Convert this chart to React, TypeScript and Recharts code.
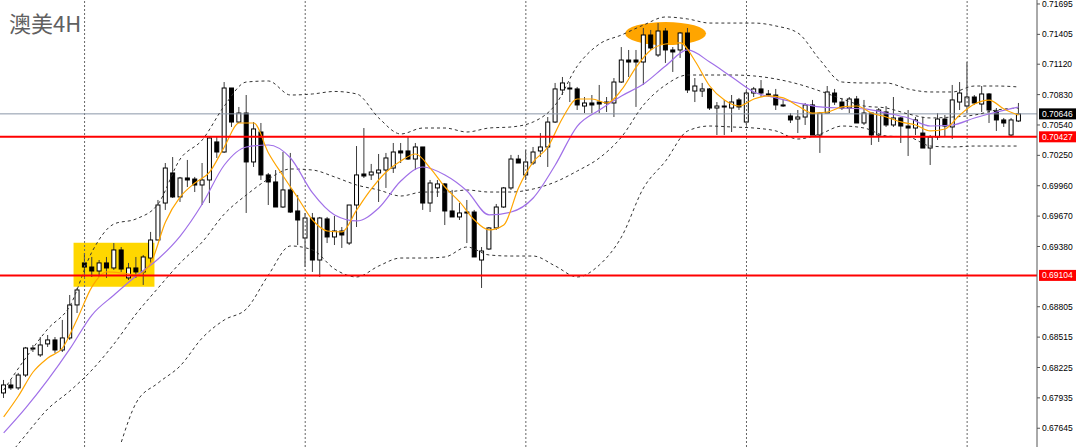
import React from 'react';
import { ComposedChart, Bar, Line, XAxis, YAxis, ReferenceLine, ReferenceArea } from 'recharts';

const openPrices = [
  0.67982, 0.68058, 0.68030, 0.68153, 0.68411, 0.68345, 0.68450, 0.68488, 0.68392, 0.68507,
  0.68822, 0.69223, 0.69184, 0.69146, 0.69223, 0.69175, 0.69347, 0.69080, 0.69175, 0.69137,
  0.69270, 0.69442, 0.69795, 0.70082, 0.69853, 0.70034, 0.70024, 0.69967, 0.70015, 0.70378,
  0.70282, 0.70893, 0.70568, 0.70654, 0.70187, 0.70473, 0.70063, 0.69996, 0.69757, 0.69920,
  0.69719, 0.69461, 0.69652, 0.69251, 0.69643, 0.69471, 0.69528, 0.69413, 0.69776, 0.70072,
  0.70063, 0.70082, 0.70110, 0.70129, 0.70292, 0.70292, 0.70215, 0.70330, 0.69795, 0.69939,
  0.69977, 0.69719, 0.69662, 0.69700, 0.69709, 0.69251, 0.69356, 0.69557, 0.69757, 0.69939,
  0.70215, 0.70063, 0.70177, 0.70292, 0.70330, 0.70568, 0.70874, 0.70893, 0.70884, 0.70721,
  0.70750, 0.70759, 0.70750, 0.70750, 0.70950, 0.71160, 0.71160, 0.71141, 0.71399, 0.71208,
  0.71437, 0.71256, 0.71256, 0.71418, 0.70864, 0.70864, 0.70884, 0.70702, 0.70721, 0.70702,
  0.70779, 0.70568, 0.70845, 0.70884, 0.70836, 0.70826, 0.70731, 0.70626, 0.70597, 0.70616,
  0.70731, 0.70444, 0.70654, 0.70845, 0.70759, 0.70702, 0.70788, 0.70559, 0.70654, 0.70444,
  0.70664, 0.70540, 0.70607, 0.70530, 0.70511, 0.70463, 0.70320, 0.70425, 0.70597, 0.70521,
  0.70759, 0.70721, 0.70807, 0.70740, 0.70836, 0.70674, 0.70588, 0.70444, 0.70578,
];
const highPrices = [
  0.68106, 0.68106, 0.68173, 0.68421, 0.68440, 0.68516, 0.68535, 0.68516, 0.68679, 0.68917,
  0.68984, 0.69318, 0.69280, 0.69251, 0.69280, 0.69413, 0.69375, 0.69223, 0.69280, 0.69299,
  0.69519, 0.69824, 0.70177, 0.70234, 0.70044, 0.70206, 0.70044, 0.70177, 0.70425, 0.70425,
  0.70950, 0.70893, 0.70712, 0.70826, 0.70568, 0.70559, 0.70082, 0.70110, 0.70282, 0.70273,
  0.69872, 0.69700, 0.69700, 0.69662, 0.69662, 0.69671, 0.69566, 0.69776, 0.70339, 0.70511,
  0.70168, 0.70263, 0.70273, 0.70368, 0.70368, 0.70425, 0.70368, 0.70330, 0.70015, 0.70015,
  0.69986, 0.69920, 0.69795, 0.69824, 0.69729, 0.69375, 0.69566, 0.69786, 0.69948, 0.70254,
  0.70254, 0.70301, 0.70330, 0.70463, 0.70616, 0.70941, 0.70998, 0.70950, 0.70903, 0.70807,
  0.70826, 0.70922, 0.70807, 0.70988, 0.71284, 0.71256, 0.71256, 0.71466, 0.71447, 0.71513,
  0.71466, 0.71284, 0.71428, 0.71466, 0.70988, 0.70941, 0.70893, 0.70759, 0.70779, 0.70826,
  0.70798, 0.70874, 0.70903, 0.70969, 0.70874, 0.70884, 0.70779, 0.70654, 0.70683, 0.70750,
  0.70779, 0.70664, 0.70912, 0.70884, 0.70798, 0.70807, 0.70817, 0.70779, 0.70654, 0.70702,
  0.70721, 0.70807, 0.70616, 0.70683, 0.70616, 0.70616, 0.70444, 0.70654, 0.70635, 0.70922,
  0.70950, 0.71141, 0.70826, 0.70912, 0.70845, 0.70702, 0.70607, 0.70607, 0.70750,
];
const lowPrices = [
  0.67934, 0.68011, 0.68011, 0.68134, 0.68373, 0.68326, 0.68421, 0.68364, 0.68373, 0.68488,
  0.68745, 0.69089, 0.69089, 0.69089, 0.69080, 0.69156, 0.69137, 0.69060, 0.69080, 0.69013,
  0.69223, 0.69442, 0.69729, 0.69843, 0.69805, 0.69948, 0.69900, 0.69776, 0.69795, 0.70225,
  0.70273, 0.70521, 0.70559, 0.69700, 0.70139, 0.70015, 0.69776, 0.69757, 0.69748, 0.69700,
  0.69394, 0.69184, 0.69137, 0.69089, 0.69413, 0.69394, 0.69366, 0.69394, 0.69566, 0.70034,
  0.70015, 0.69805, 0.69939, 0.70082, 0.70177, 0.70206, 0.70110, 0.69729, 0.69709, 0.69853,
  0.69585, 0.69662, 0.69633, 0.69413, 0.69280, 0.68984, 0.69347, 0.69538, 0.69748, 0.69920,
  0.70177, 0.70015, 0.70158, 0.70234, 0.70139, 0.70559, 0.70826, 0.70759, 0.70683, 0.70654,
  0.70654, 0.70654, 0.70664, 0.70616, 0.70941, 0.70998, 0.70712, 0.70922, 0.71256, 0.71189,
  0.71132, 0.71046, 0.71180, 0.70845, 0.70759, 0.70807, 0.70683, 0.70444, 0.70444, 0.70473,
  0.70683, 0.70540, 0.70807, 0.70807, 0.70807, 0.70683, 0.70712, 0.70559, 0.70463, 0.70540,
  0.70444, 0.70273, 0.70654, 0.70731, 0.70683, 0.70654, 0.70559, 0.70540, 0.70349, 0.70378,
  0.70521, 0.70521, 0.70368, 0.70244, 0.70444, 0.70320, 0.70158, 0.70397, 0.70425, 0.70406,
  0.70683, 0.70654, 0.70731, 0.70664, 0.70559, 0.70483, 0.70521, 0.70425, 0.70568,
];
const closePrices = [
  0.68058, 0.68030, 0.68153, 0.68411, 0.68402, 0.68440, 0.68488, 0.68392, 0.68507, 0.68822,
  0.68965, 0.69184, 0.69146, 0.69223, 0.69175, 0.69347, 0.69165, 0.69175, 0.69137, 0.69280,
  0.69442, 0.69776, 0.70129, 0.69853, 0.70034, 0.70015, 0.69967, 0.70015, 0.70416, 0.70282,
  0.70893, 0.70568, 0.70654, 0.70187, 0.70502, 0.70063, 0.69996, 0.69757, 0.69920, 0.69709,
  0.69633, 0.69652, 0.69251, 0.69652, 0.69471, 0.69528, 0.69490, 0.69776, 0.70063, 0.70053,
  0.70091, 0.70110, 0.70225, 0.70282, 0.70273, 0.70215, 0.70330, 0.69795, 0.69986, 0.69977,
  0.69719, 0.69662, 0.69700, 0.69709, 0.69280, 0.69337, 0.69557, 0.69757, 0.69939, 0.70215,
  0.70177, 0.70187, 0.70282, 0.70330, 0.70568, 0.70884, 0.70941, 0.70884, 0.70731, 0.70750,
  0.70731, 0.70740, 0.70759, 0.70950, 0.71160, 0.71141, 0.71141, 0.71399, 0.71275, 0.71437,
  0.71256, 0.71237, 0.71418, 0.70874, 0.70912, 0.70884, 0.70702, 0.70721, 0.70712, 0.70759,
  0.70712, 0.70845, 0.70884, 0.70845, 0.70826, 0.70731, 0.70726, 0.70588, 0.70616, 0.70731,
  0.70444, 0.70654, 0.70855, 0.70759, 0.70702, 0.70788, 0.70559, 0.70654, 0.70444, 0.70683,
  0.70540, 0.70607, 0.70530, 0.70511, 0.70588, 0.70320, 0.70425, 0.70597, 0.70530, 0.70779,
  0.70845, 0.70807, 0.70750, 0.70836, 0.70683, 0.70588, 0.70559, 0.70588, 0.70646,
];

// Bollinger bands and purple MA read every third bar
const bandIdx = [
  0, 3, 6, 9, 12, 15, 18, 21, 24, 27, 30, 33, 36, 39, 42, 45, 48, 51, 54, 57, 60, 63, 66, 69,
  72, 75, 78, 81, 84, 87, 90, 93, 96, 99, 102, 105, 108, 111, 114, 117, 120, 123, 126, 129,
  132, 135, 138,
];
const upperBand = [
  0.68010, 0.68316, 0.68593, 0.68812, 0.69328, 0.69595, 0.69643, 0.69786, 0.70215, 0.70397,
  0.70721, 0.70950, 0.70960, 0.70826, 0.70836, 0.70860, 0.70836, 0.70607, 0.70454, 0.70511,
  0.70511, 0.70473, 0.70511, 0.70521, 0.70569, 0.70731, 0.71103, 0.71313, 0.71399, 0.71494,
  0.71571, 0.71552, 0.71513, 0.71513, 0.71513, 0.71485, 0.71418, 0.71160, 0.70950, 0.70941,
  0.70941, 0.70883, 0.70855, 0.70855, 0.70912, 0.70912, 0.70903,
];
const middleBand = [
  0.67323, 0.67581, 0.67829, 0.68001, 0.68201, 0.68450, 0.68736, 0.68984, 0.69223, 0.69423,
  0.69690, 0.69872, 0.70024, 0.70120, 0.70110, 0.70044, 0.69967, 0.69919, 0.69862, 0.69900,
  0.69900, 0.69919, 0.69900, 0.69900, 0.69929, 0.69996, 0.70101, 0.70225, 0.70425, 0.70731,
  0.70922, 0.71017, 0.71017, 0.71017, 0.71008, 0.70979, 0.70931, 0.70864, 0.70788, 0.70721,
  0.70702, 0.70645, 0.70607, 0.70616, 0.70635, 0.70683, 0.70702,
];
const purpleMA = [
  0.67600, 0.67839, 0.68106, 0.68402, 0.68726, 0.68917, 0.69099, 0.69261, 0.69480, 0.69786,
  0.70158, 0.70330, 0.70349, 0.70225, 0.69891, 0.69681, 0.69624, 0.69748, 0.70005, 0.70139,
  0.70063, 0.69910, 0.69681, 0.69709, 0.69843, 0.70158, 0.70530, 0.70683, 0.70817, 0.70931,
  0.71103, 0.71256, 0.71141, 0.70998, 0.70855, 0.70798, 0.70750, 0.70712, 0.70702, 0.70693,
  0.70654, 0.70607, 0.70530, 0.70540, 0.70607, 0.70664, 0.70712,
];
const lowerIdx = [
  16, 18, 21, 24, 27, 30, 33, 36, 39, 42, 45, 48, 51, 54, 57, 60, 63, 66, 69, 72, 75, 78, 81,
  84, 87, 90, 93, 96, 99, 102, 105, 108, 111, 114, 117, 120, 123, 126, 129, 132, 135, 138,
];
const lowerBand = [
  0.67514, 0.67886, 0.68077, 0.68240, 0.68507, 0.68679, 0.68784, 0.69108, 0.69385, 0.69347,
  0.69165, 0.69089, 0.69194, 0.69270, 0.69270, 0.69280, 0.69375, 0.69299, 0.69289, 0.69289,
  0.69194, 0.69089, 0.69204, 0.69471, 0.69939, 0.70196, 0.70483, 0.70530, 0.70521, 0.70511,
  0.70483, 0.70406, 0.70454, 0.70530, 0.70511, 0.70435, 0.70425, 0.70339, 0.70330, 0.70339,
  0.70339, 0.70339,
];
// orange MA read every second bar
const orangeIdx = [
  0, 2, 4, 6, 8, 10, 12, 14, 16, 18, 20, 22, 24, 26, 28, 30, 32, 34, 36, 38, 40, 42, 44, 46,
  48, 50, 52, 54, 56, 58, 60, 62, 64, 66, 68, 70, 72, 74, 76, 78, 80, 82, 84, 86, 88, 90, 92,
  94, 96, 98, 100, 102, 104, 106, 108, 110, 112, 114, 116, 118, 120, 122, 124, 126, 128, 130,
  132, 134, 136, 138,
];
const orangeMA = [
  0.67753, 0.67953, 0.68182, 0.68316, 0.68411, 0.68688, 0.68994, 0.69137, 0.69127, 0.69108,
  0.69223, 0.69614, 0.69853, 0.69986, 0.70091, 0.70330, 0.70559, 0.70559, 0.70273, 0.70053,
  0.69843, 0.69633, 0.69528, 0.69519, 0.69729, 0.69929, 0.70091, 0.70196, 0.70263, 0.70129,
  0.69948, 0.69805, 0.69633, 0.69538, 0.69585, 0.69939, 0.70187, 0.70330, 0.70607, 0.70788,
  0.70788, 0.70750, 0.70874, 0.71093, 0.71256, 0.71313, 0.71323, 0.71151, 0.70912, 0.70778,
  0.70721, 0.70788, 0.70817, 0.70798, 0.70721, 0.70654, 0.70664, 0.70712, 0.70721, 0.70654,
  0.70616, 0.70569, 0.70540, 0.70483, 0.70502, 0.70635, 0.70740, 0.70778, 0.70693, 0.70635,
];

const yTicks = [
  0.71695, 0.71405, 0.7112, 0.7083, 0.7054, 0.7025, 0.6996, 0.6967, 0.6938, 0.68805, 0.68515,
  0.68225, 0.67935, 0.67645,
];
const separatorIdx = [11, 41, 71, 101, 131];
const SLOTS = 141;

const data: any[] = [];
for (let i = 0; i < SLOTS; i++) {
  const has = i < openPrices.length;
  data.push({
    i,
    open: has ? openPrices[i] : null,
    high: has ? highPrices[i] : null,
    low: has ? lowPrices[i] : null,
    close: has ? closePrices[i] : null,
    range: has ? [lowPrices[i], highPrices[i]] : null,
    upper: null,
    mid: null,
    lower: null,
    ma1: null,
    ma2: null,
  });
}
bandIdx.forEach((k, j) => {
  data[k].upper = upperBand[j];
  data[k].mid = middleBand[j];
  data[k].ma2 = purpleMA[j];
});
lowerIdx.forEach((k, j) => {
  data[k].lower = lowerBand[j];
});
orangeIdx.forEach((k, j) => {
  data[k].ma1 = orangeMA[j];
});

const Candle = (props: any) => {
  const { x, y, width, height, payload } = props;
  if (!payload || payload.open == null || x == null || y == null) return null;
  const { open: o, close: c, high: h, low: l } = payload;
  const top = Math.min(y, y + height);
  const bottom = Math.max(y, y + height);
  const span = h - l;
  const toY = (v: number) => (span === 0 ? top : top + ((h - v) / span) * (bottom - top));
  const cx = x + width / 2;
  const yo = toY(o);
  const yc = toY(c);
  const bull = c >= o;
  const bTop = Math.min(yo, yc);
  const bH = Math.max(Math.abs(yc - yo), 1);
  return (
    <g>
      <line x1={cx} x2={cx} y1={top} y2={bottom} stroke="#3c3c3c" strokeWidth={1} />
      <rect
        x={cx - 2}
        y={bTop}
        width={4}
        height={bH}
        fill={bull ? '#ffffff' : '#000000'}
        stroke="#000000"
        strokeWidth={1}
      />
    </g>
  );
};

const Ellipse = (props: any) => {
  const { x, y, width, height } = props;
  if (x == null) return null;
  return <ellipse cx={x + width / 2} cy={y + height / 2} rx={width / 2} ry={height / 2} fill="#FFA500" />;
};

const noDot = () => <g />;

const makeTag = (text: string, bg: string) => (props: any) => {
  const vb = props.viewBox || {};
  const x = (vb.x || 0) + (vb.width || 0);
  const y = vb.y || 0;
  return (
    <g>
      <rect x={x + 2} y={y - 5.5} width={37} height={11} fill={bg} />
      <text
        x={x + 5}
        y={y}
        dy="0.35em"
        fontSize={8.5}
        fill="#ffffff"
        fontFamily="'Liberation Sans', Arial, sans-serif"
      >
        {text}
      </text>
    </g>
  );
};

export default function App() {
  return (
    <div style={{ position: 'absolute', left: 0, top: 0, width: 1080, height: 447, background: '#fff' }}>
      <ComposedChart width={1080} height={447} data={data} margin={{ top: 0, right: 0, bottom: 0, left: 0 }}>
        <XAxis dataKey="i" type="category" hide />
        <YAxis
          orientation="right"
          type="number"
          width={43}
          domain={[0.67466, 0.71733]}
          allowDataOverflow
          ticks={yTicks}
          interval={0}
          tickFormatter={(v: number) => v.toFixed(5)}
          tick={{ fontSize: 8.5, fill: '#000', fontFamily: "'Liberation Sans', Arial, sans-serif" }}
          tickSize={3}
          axisLine={{ stroke: '#555' }}
          tickLine={{ stroke: '#555' }}
        />
        <ReferenceArea x1={10} x2={20} y1={0.68996} y2={0.69416} fill="#FFD700" fillOpacity={1} stroke="none" />
        <ReferenceArea x1={85} x2={95} y1={0.71303} y2={0.71523} shape={Ellipse} fill="#FFA500" />
        {separatorIdx.map((k) => (
          <ReferenceLine key={k} x={k} stroke="#666" strokeDasharray="2 2" strokeWidth={1} />
        ))}
        <ReferenceLine y={0.70646} stroke="#8a97a8" strokeWidth={1} label={makeTag('0.70646', '#000000')} />
        <Line dataKey="upper" type="monotone" stroke="#333" strokeWidth={1} strokeDasharray="3 3" dot={noDot} activeDot={false} connectNulls isAnimationActive={false} />
        <Line dataKey="mid" type="monotone" stroke="#333" strokeWidth={1} strokeDasharray="3 3" dot={noDot} activeDot={false} connectNulls isAnimationActive={false} />
        <Line dataKey="lower" type="monotone" stroke="#333" strokeWidth={1} strokeDasharray="3 3" dot={noDot} activeDot={false} connectNulls isAnimationActive={false} />
        <Line dataKey="ma2" type="monotone" stroke="#A070E8" strokeWidth={1.2} dot={noDot} activeDot={false} connectNulls isAnimationActive={false} />
        <Line dataKey="ma1" type="monotone" stroke="#FFA500" strokeWidth={1.2} dot={noDot} activeDot={false} connectNulls isAnimationActive={false} />
        <Bar dataKey="range" barSize={5} shape={Candle} isAnimationActive={false} />
        <ReferenceLine y={0.70427} stroke="#ff0000" strokeWidth={2} label={makeTag('0.70427', '#ff0000')} />
        <ReferenceLine y={0.69104} stroke="#ff0000" strokeWidth={2} label={makeTag('0.69104', '#ff0000')} />
      </ComposedChart>
      <div
        style={{
          position: 'absolute',
          left: 9,
          top: 11,
          fontSize: 22,
          lineHeight: 1,
          color: '#606060',
          fontFamily: "'Noto Sans CJK SC', 'Noto Sans', sans-serif",
        }}
      >
        澳美4H
      </div>
    </div>
  );
}
